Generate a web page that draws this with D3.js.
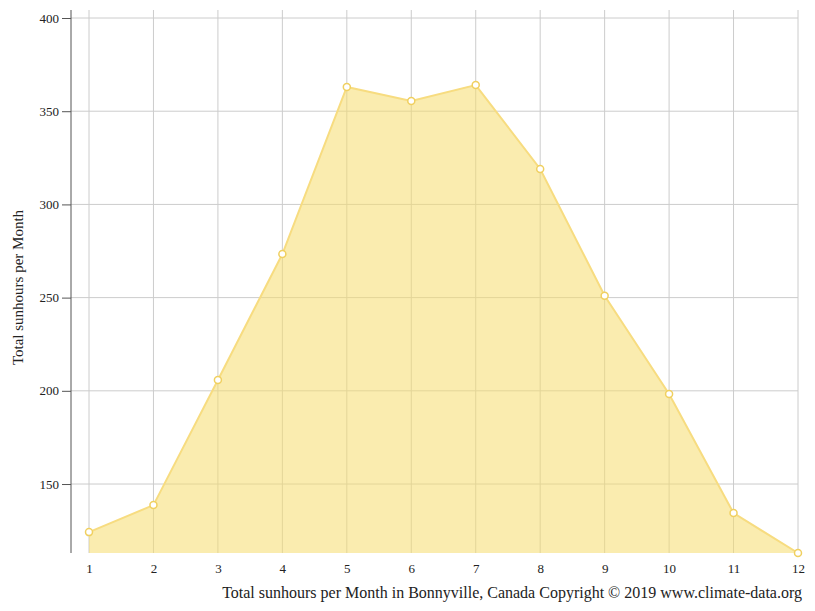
<!DOCTYPE html>
<html><head><meta charset="utf-8">
<script src="https://cdn.jsdelivr.net/npm/d3@7"></script>
<style>
body{margin:0;background:#fff;font-family:"Liberation Serif","DejaVu Serif",serif;}
</style></head><body>
<svg width="815" height="611"></svg>
<script>
var months = [1,2,3,4,5,6,7,8,9,10,11,12];
var sunhours = [124.2,138.7,205.8,273.4,363,355.5,364,319,251,198.3,134.4,113];
var yTicks = [150,200,250,300,350,400];

var svg = d3.select('svg');
var pLeft = 71, pRight = 798, pTop = 10, pBottom = 553;

var x = d3.scaleLinear().domain([1,12]).range([89, pRight]);
var y = d3.scaleLinear().domain([113,400]).range([pBottom, 18]);

// grid
svg.append('g').selectAll('line').data(months).enter().append('line')
    .attr('x1', d => x(d)).attr('x2', d => x(d)).attr('y1', pTop).attr('y2', pBottom)
    .attr('stroke', '#ccc').attr('stroke-width', 1);
svg.append('g').selectAll('line').data(yTicks).enter().append('line')
    .attr('x1', pLeft).attr('x2', pRight).attr('y1', d => y(d)).attr('y2', d => y(d))
    .attr('stroke', '#ccc').attr('stroke-width', 1);

// area + line
var data = months.map((m, i) => ({m: m, v: sunhours[i]}));
svg.append('path').datum(data)
    .attr('d', d3.area().x(d => x(d.m)).y0(pBottom).y1(d => y(d.v)))
    .attr('fill', 'rgba(245,220,110,0.55)');
svg.append('path').datum(data)
    .attr('d', d3.line().x(d => x(d.m)).y(d => y(d.v)))
    .attr('fill', 'none').attr('stroke', '#f7dc80').attr('stroke-width', 2);
svg.append('g').selectAll('circle').data(data).enter().append('circle')
    .attr('cx', d => x(d.m)).attr('cy', d => y(d.v)).attr('r', 3.5)
    .attr('fill', '#fff').attr('stroke', '#f0d060').attr('stroke-width', 1.5);

// axes
var ya = svg.append('g').attr('transform', 'translate(' + pLeft + ',0)')
    .call(d3.axisLeft(y).tickValues(yTicks).tickSize(9).tickPadding(3))
    .attr('font-family', '"Liberation Serif", serif').attr('font-size', 13);
ya.select('.domain').attr('d', 'M0,' + pTop + 'V' + pBottom).attr('stroke', '#555');
ya.selectAll('.tick line').attr('stroke', '#555');
ya.selectAll('.tick text').attr('fill', '#222');

var xa = svg.append('g').attr('transform', 'translate(0,' + pBottom + ')')
    .call(d3.axisBottom(x).tickValues(months).tickSize(0).tickPadding(11).tickFormat(d3.format('d')))
    .attr('font-family', '"Liberation Serif", serif').attr('font-size', 13);
xa.select('.domain').remove();
xa.selectAll('.tick text').attr('fill', '#222');

svg.append('text').attr('transform', 'translate(23,' + ((pTop + pBottom) / 2 + 6) + ') rotate(-90)')
    .attr('text-anchor', 'middle').attr('font-size', 15).attr('fill', '#222')
    .text('Total sunhours per Month');
svg.append('text').attr('x', 802).attr('y', 598).attr('text-anchor', 'end')
    .attr('font-size', 16).attr('fill', '#222')
    .text('Total sunhours per Month in Bonnyville, Canada Copyright © 2019 www.climate-data.org');
</script></body></html>
